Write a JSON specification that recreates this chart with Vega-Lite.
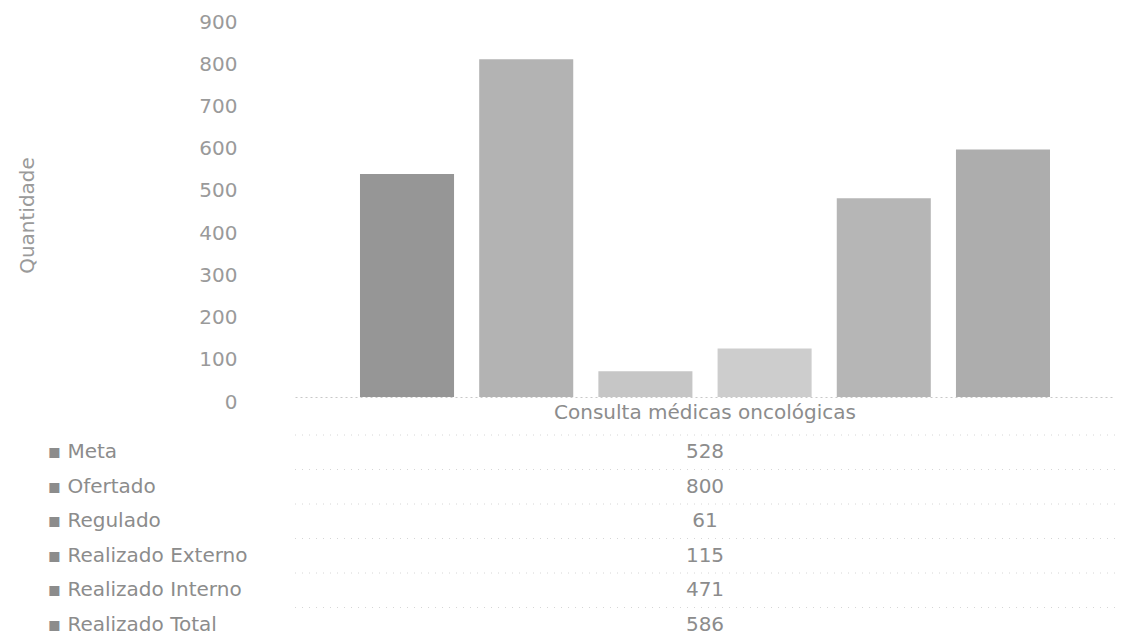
{
  "$schema": "https://vega.github.io/schema/vega-lite/v6.json",
  "autosize": {"type": "pad"},
  "padding": {"left": 17, "top": 12, "right": 0, "bottom": 0},
  "background": "white",
  "config": {
    "font": "DejaVu Sans",
    "view": {"stroke": null},
    "concat": {"spacing": 38}
  },
  "bounds": "flush",
  "datasets": {
    "consultas": [
      {"categoria": "Consulta médicas oncológicas", "serie": "Meta", "valor": 528},
      {"categoria": "Consulta médicas oncológicas", "serie": "Ofertado", "valor": 800},
      {"categoria": "Consulta médicas oncológicas", "serie": "Regulado", "valor": 61},
      {"categoria": "Consulta médicas oncológicas", "serie": "Realizado Externo", "valor": 115},
      {"categoria": "Consulta médicas oncológicas", "serie": "Realizado Interno", "valor": 471},
      {"categoria": "Consulta médicas oncológicas", "serie": "Realizado Total", "valor": 586}
    ]
  },
  "vconcat": [
    {
      "width": 820,
      "height": 380,
      "data": {"name": "consultas"},
      "mark": {"type": "bar"},
      "encoding": {
        "x": {
          "field": "categoria",
          "type": "nominal",
          "scale": {"paddingInner": 0, "paddingOuter": 0.0733},
          "axis": {
            "title": null,
            "labelAngle": 0,
            "labelFontSize": 20,
            "labelColor": "#8c8c8c",
            "labelPadding": 5,
            "labelBaseline": "top",
            "labelLimit": 0,
            "ticks": false,
            "domainColor": "#c8c8c8",
            "domainDash": [2, 3],
            "domainWidth": 1
          }
        },
        "xOffset": {
          "field": "serie",
          "type": "nominal",
          "sort": null,
          "scale": {"paddingInner": 0.211, "paddingOuter": 0.1055}
        },
        "y": {
          "field": "valor",
          "type": "quantitative",
          "scale": {"domain": [0, 900], "nice": false},
          "axis": {
            "title": "Quantidade",
            "titleFontSize": 20,
            "titleFontWeight": "normal",
            "titleColor": "#9a9a9a",
            "titleX": -268,
            "titleY": 198,
            "titleBaseline": "middle",
            "titleAngle": 270,
            "values": [0, 100, 200, 300, 400, 500, 600, 700, 800, 900],
            "labelFontSize": 20,
            "labelColor": "#9a9a9a",
            "labelPadding": 58,
            "labelOffset": 5,
            "domain": false,
            "ticks": false,
            "grid": false
          }
        },
        "color": {
          "field": "serie",
          "type": "nominal",
          "sort": null,
          "scale": {
            "domain": ["Meta", "Ofertado", "Regulado", "Realizado Externo", "Realizado Interno", "Realizado Total"],
            "range": ["#969696", "#b3b3b3", "#c6c6c6", "#cdcdcd", "#b6b6b6", "#adadad"]
          },
          "legend": null
        }
      }
    },
    {
      "width": 820,
      "height": 207,
      "data": {"name": "consultas"},
      "layer": [
        {
          "mark": {"type": "rule", "color": "#d6d6d6", "strokeDash": [1, 6], "strokeWidth": 1},
          "encoding": {
            "y": {"field": "serie", "type": "nominal", "sort": null, "bandPosition": 0}
          }
        },
        {
          "mark": {"type": "text", "fontSize": 20, "color": "#8c8c8c", "baseline": "middle", "align": "center"},
          "encoding": {
            "y": {
              "field": "serie",
              "type": "nominal",
              "sort": null,
              "scale": {"paddingInner": 0, "paddingOuter": 0},
              "axis": {
                "title": null,
                "orient": "left",
                "labelAlign": "left",
                "labelPadding": 248,
                "labelFontSize": 20,
                "labelColor": "#8c8c8c",
                "labelLimit": 0,
                "labelExpr": "'▪ ' + datum.label",
                "domain": false,
                "ticks": false,
                "grid": false
              }
            },
            "text": {"field": "valor", "type": "quantitative"}
          }
        }
      ]
    }
  ]
}
